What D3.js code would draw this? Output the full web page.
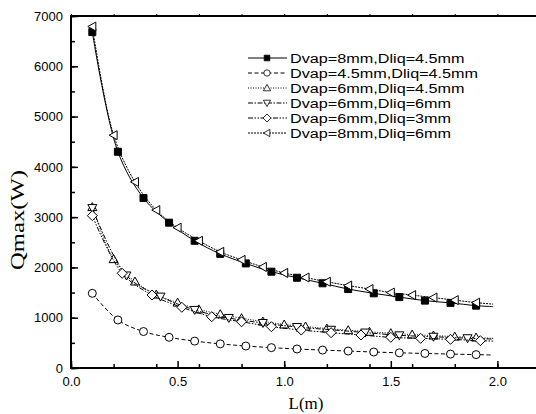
<!DOCTYPE html>
<html>
<head>
<meta charset="utf-8">
<script src="https://cdn.jsdelivr.net/npm/d3@7"></script>
<style>
    body { margin: 0; background: #fff; }
    svg { display: block; }
    .tick-label { font-family: "Liberation Sans", Arial, sans-serif; font-size: 13px; fill: #000; }
    .legend-label { font-family: "Liberation Sans", Arial, sans-serif; font-size: 13.5px; fill: #000; }
    .graph-label { font-family: "Liberation Serif", "Times New Roman", serif; fill: #000; }
</style>
</head>
<body>
<svg width="536" height="414"></svg>
<script>
// marker positions (L, m) and Qmax values (W)
let x_step12 = [0.1, 0.22, 0.34, 0.46, 0.58, 0.70, 0.82, 0.94, 1.06, 1.18, 1.30, 1.42, 1.54, 1.66, 1.78, 1.90]
let x_step10 = [0.1, 0.2, 0.3, 0.4, 0.5, 0.6, 0.7, 0.8, 0.9, 1.0, 1.1, 1.2, 1.3, 1.4, 1.5, 1.6, 1.7, 1.8, 1.9]
let x_step16 = [0.1, 0.26, 0.42, 0.58, 0.74, 0.90, 1.06, 1.22, 1.38, 1.54, 1.70, 1.86]
let x_step14 = [0.1, 0.24, 0.38, 0.52, 0.66, 0.80, 0.94, 1.08, 1.22, 1.36, 1.50, 1.64, 1.78, 1.92]

let q_8_45 = [6680, 4300, 3380, 2890, 2530, 2270, 2080, 1915, 1795, 1685, 1570, 1485, 1410, 1340, 1295, 1240]
let q_45_45 = [1485, 955, 725, 610, 535, 480, 437, 405, 378, 356, 337, 318, 302, 289, 277, 266]
let q_6_45 = [3200, 2165, 1720, 1460, 1300, 1165, 1070, 990, 925, 865, 825, 785, 752, 720, 692, 665, 645, 624, 605]
let q_6_6 = [3180, 1840, 1420, 1155, 995, 895, 815, 760, 705, 650, 622, 592]
let q_6_3 = [3030, 1883, 1451, 1207, 1020, 920, 821, 755, 702, 656, 610, 590, 570, 543]
let q_8_6 = [6790, 4630, 3700, 3140, 2790, 2530, 2310, 2150, 2010, 1890, 1800, 1715, 1640, 1570, 1500, 1450, 1400, 1350, 1300]

// where each drawn curve stops past its last marker
let tail_x = 1.98
let tail_q = [1220, 258, 590, 575, 535, 1270]

let series_names = [
    'Dvap=8mm,Dliq=4.5mm',
    'Dvap=4.5mm,Dliq=4.5mm',
    'Dvap=6mm,Dliq=4.5mm',
    'Dvap=6mm,Dliq=6mm',
    'Dvap=6mm,Dliq=3mm',
    'Dvap=8mm,Dliq=6mm'
]

let x_ticks = [0.0, 0.5, 1.0, 1.5, 2.0]
let y_ticks = [0, 1000, 2000, 3000, 4000, 5000, 6000, 7000]

let series = [
    { name: series_names[0], xs: x_step12, qs: q_8_45, symbol: 'square', dash: null },
    { name: series_names[1], xs: x_step12, qs: q_45_45, symbol: 'circle', dash: '4,2.5' },
    { name: series_names[2], xs: x_step10, qs: q_6_45, symbol: 'up', dash: '1,1.5' },
    { name: series_names[3], xs: x_step16, qs: q_6_6, symbol: 'down', dash: '5,1.5,1.5,1.5' },
    { name: series_names[4], xs: x_step14, qs: q_6_3, symbol: 'diamond', dash: '5,1.5,1.5,1.5,1.5,1.5' },
    { name: series_names[5], xs: x_step10, qs: q_8_6, symbol: 'left', dash: '2,1' }
]

let svg = d3.select('svg')

let scale = {
    x: d3.scaleLinear().domain([0, 2.5]).range([71, 604]),
    y: d3.scaleLinear().domain([0, 7000]).range([368, 16])
}

// marker path around (0,0)
function symbolPath(type) {
    if (type === 'square') return 'M-3.5,-3.5H3.5V3.5H-3.5Z'
    if (type === 'circle') return 'M-4,0A4,4 0 1,0 4,0A4,4 0 1,0 -4,0Z'
    if (type === 'up') return 'M0,-4.5L4.5,3.5H-4.5Z'
    if (type === 'down') return 'M0,4.5L4.5,-3.5H-4.5Z'
    if (type === 'diamond') return 'M0,-5L5,0L0,5L-5,0Z'
    if (type === 'left') return 'M-4.5,0L3.5,-4.5V4.5Z'
}

let line = d3.line()
    .x(d => scale.x(d[0]))
    .y(d => scale.y(d[1]))
    .curve(d3.curveCatmullRom)

let plot = svg.append('g')

series.forEach((s, i) => {
    let pts = s.xs.map((x, j) => [x, s.qs[j]])
    let curve = pts.concat([[tail_x, tail_q[i]]])

    plot.append('path')
        .attr('d', line(curve))
        .attr('fill', 'none')
        .attr('stroke', '#000')
        .attr('stroke-width', 1)
        .attr('stroke-dasharray', s.dash)

    plot.selectAll('.m' + i)
        .data(pts)
        .enter()
        .append('path')
        .attr('class', 'm' + i)
        .attr('d', symbolPath(s.symbol))
        .attr('transform', d => `translate(${scale.x(d[0])},${scale.y(d[1])})`)
        .attr('fill', s.symbol === 'square' ? '#000' : '#fff')
        .attr('stroke', '#000')
        .attr('stroke-width', 1)
})

// X axis (bottom, ticks inside)
svg.append('g')
    .attr('transform', `translate(0,368)`)
    .call(d3.axisBottom(scale.x).ticks(10).tickSize(-4).tickFormat(''))
    .call(g => g.select('.domain').remove())
    .selectAll('line').attr('stroke-width', 1.5)

svg.append('g')
    .attr('transform', `translate(0,368)`)
    .call(d3.axisBottom(scale.x).tickValues(x_ticks).tickSize(-7).tickPadding(9).tickFormat(d3.format('.1f')))
    .call(g => g.select('.domain').remove())
    .call(g => g.selectAll('line').attr('stroke-width', 1.5))
    .call(g => g.selectAll('text').attr('class', 'tick-label').attr('font-family', null).attr('font-size', null))

// top border with small outward ticks
svg.append('g')
    .attr('transform', `translate(0,16)`)
    .call(d3.axisTop(scale.x).ticks(10).tickSize(2).tickFormat(''))
    .call(g => g.select('.domain').remove())

// Y axis (left, ticks inside)
svg.append('g')
    .attr('transform', `translate(71,0)`)
    .call(d3.axisLeft(scale.y).ticks(14).tickSize(-4).tickFormat(''))
    .call(g => g.select('.domain').remove())
    .selectAll('line').attr('stroke-width', 1.5)

svg.append('g')
    .attr('transform', `translate(71,0)`)
    .call(d3.axisLeft(scale.y).tickValues(y_ticks).tickSize(-7).tickPadding(8).tickFormat(d3.format('d')))
    .call(g => g.select('.domain').remove())
    .call(g => g.selectAll('line').attr('stroke-width', 1.5))
    .call(g => g.selectAll('text').attr('class', 'tick-label').attr('font-family', null).attr('font-size', null))

// frame
svg.append('path')
    .attr('d', `M540,${scale.y(7000)}H${scale.x(0)}V${scale.y(0)}H540`)
    .attr('fill', 'none')
    .attr('stroke', '#000')
    .attr('stroke-width', 2)

// X label
svg.append('text')
    .attr('x', 306)
    .attr('y', 409)
    .attr('text-anchor', 'middle')
    .attr('class', 'graph-label')
    .attr('font-size', 17)
    .text('L(m)')

// Y label
svg.append('text')
    .attr('transform', `translate(23.5,220) rotate(-90)`)
    .attr('text-anchor', 'middle')
    .attr('class', 'graph-label')
    .attr('font-size', 18)
    .attr('textLength', 100)
    .attr('lengthAdjust', 'spacingAndGlyphs')
    .text('Qmax(W)')

// legend
let legend = svg.append('g')

series.forEach((s, i) => {
    let ly = 58 + i * 15
    legend.append('line')
        .attr('x1', 248).attr('x2', 287)
        .attr('y1', ly).attr('y2', ly)
        .attr('stroke', '#000')
        .attr('stroke-width', 1)
        .attr('stroke-dasharray', s.dash)
    legend.append('path')
        .attr('d', symbolPath(s.symbol))
        .attr('transform', `translate(267,${ly}) scale(0.8)`)
        .attr('fill', s.symbol === 'square' ? '#000' : '#fff')
        .attr('stroke', '#000')
        .attr('stroke-width', 1)
    legend.append('text')
        .attr('transform', `translate(290,${ly + 5}) scale(1.2,1)`)
        .attr('class', 'legend-label')
        .text(s.name)
})
</script>
</body>
</html>
